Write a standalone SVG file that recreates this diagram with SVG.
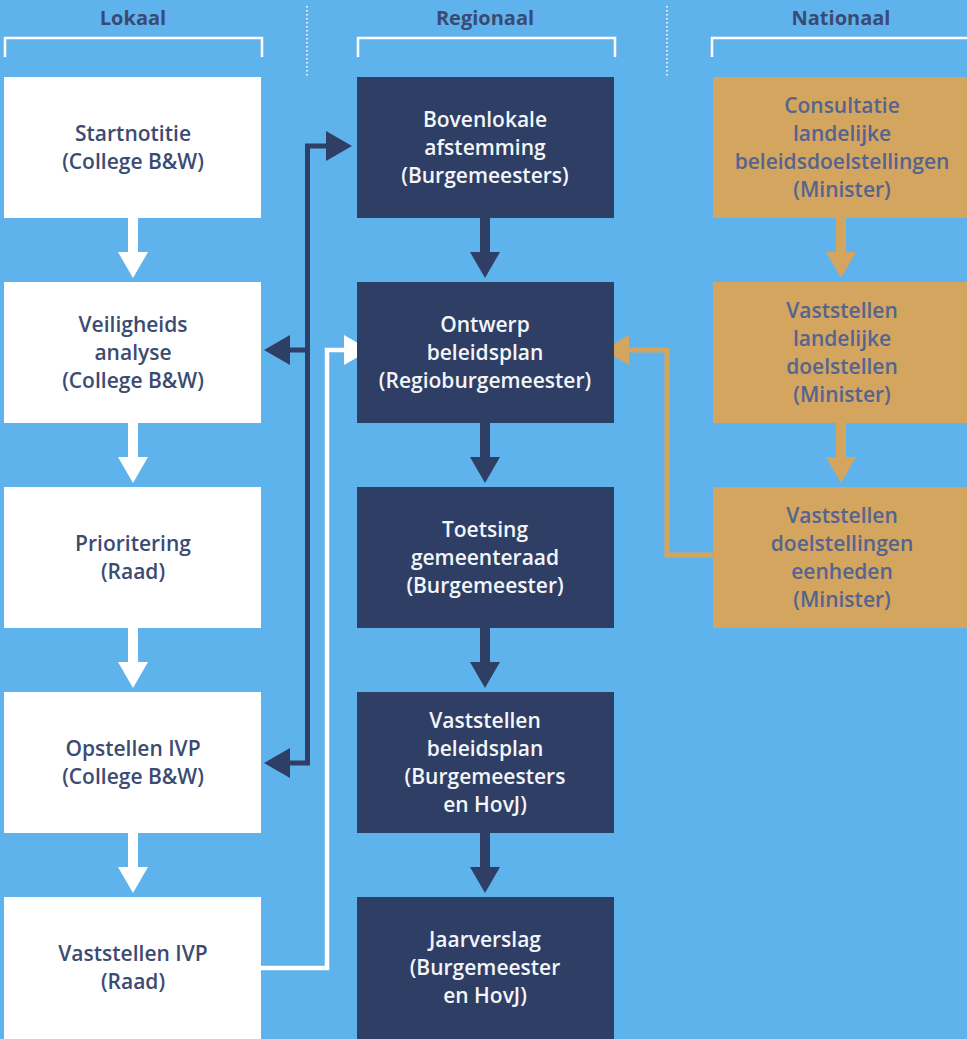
<svg xmlns="http://www.w3.org/2000/svg" width="967" height="1039" viewBox="0 0 967 1039">
<style>
.t{font-family:"Open Sans","Liberation Sans",sans-serif;font-weight:600;font-size:21px;text-anchor:middle}
.h{font-family:"Open Sans","Liberation Sans",sans-serif;font-weight:700;font-size:20px;text-anchor:middle;fill:#3b4a74}
.lt{fill:#3c4b72}
.dt{fill:#f2f5f9}
.ot{fill:#54648f}
.wb{fill:#ffffff}
.db{fill:#2f3e64}
.ob{fill:#d3a55f}
.br{fill:none;stroke:#ffffff;stroke-width:2.5}
.dot{fill:none;stroke:#ffffff;stroke-width:1.6;stroke-dasharray:1.6 2.4}
.cd{fill:none;stroke:#2f3e64;stroke-width:5}
.cw{fill:none;stroke:#ffffff;stroke-width:4.5}
.co{fill:none;stroke:#d3a55f;stroke-width:5}
.sd{fill:none;stroke:#2f3e64;stroke-width:10}
.sw{fill:none;stroke:#ffffff;stroke-width:10}
.so{fill:none;stroke:#d3a55f;stroke-width:10}
</style>
<defs>
<marker id="ad" markerUnits="userSpaceOnUse" markerWidth="26" markerHeight="30" viewBox="0 0 26 30" refX="0" refY="15" orient="auto-start-reverse"><path d="M0,0 L26,15 L0,30 Z" fill="#2f3e64"/></marker>
<marker id="aw" markerUnits="userSpaceOnUse" markerWidth="26" markerHeight="30" viewBox="0 0 26 30" refX="0" refY="15" orient="auto-start-reverse"><path d="M0,0 L26,15 L0,30 Z" fill="#ffffff"/></marker>
<marker id="ao" markerUnits="userSpaceOnUse" markerWidth="26" markerHeight="30" viewBox="0 0 26 30" refX="0" refY="15" orient="auto-start-reverse"><path d="M0,0 L26,15 L0,30 Z" fill="#d3a55f"/></marker>
</defs>
<rect x="0" y="0" width="967" height="1039" fill="#5fb3ec"/>

<g id="headers">
<text class="h" x="133" y="25">Lokaal</text>
<text class="h" x="485" y="25">Regionaal</text>
<text class="h" x="841" y="25">Nationaal</text>
<path class="br" d="M5,57 V38 H262 V57"/>
<path class="br" d="M358,57 V38 H615 V57"/>
<path class="br" d="M712,57 V38 H970"/>
<line class="dot" x1="307" y1="6" x2="307" y2="77"/>
<line class="dot" x1="667" y1="6" x2="667" y2="77"/>
</g>

<g id="connectors">
<path class="sw" d="M133,218 V252" marker-end="url(#aw)"/>
<path class="sw" d="M133,423 V457" marker-end="url(#aw)"/>
<path class="sw" d="M133,628 V662" marker-end="url(#aw)"/>
<path class="sw" d="M133,833 V867" marker-end="url(#aw)"/>
<path class="sd" d="M485,218 V252" marker-end="url(#ad)"/>
<path class="sd" d="M485,423 V457" marker-end="url(#ad)"/>
<path class="sd" d="M485,628 V662" marker-end="url(#ad)"/>
<path class="sd" d="M485,833 V867" marker-end="url(#ad)"/>
<path class="so" d="M841,218 V252" marker-end="url(#ao)"/>
<path class="so" d="M841,423 V457" marker-end="url(#ao)"/>
<path class="cd" d="M290,763 H307.5 V146 H326" marker-start="url(#ad)" marker-end="url(#ad)"/>
<path class="cd" d="M307.5,350 H290" marker-end="url(#ad)"/>
<path class="cw" d="M261,968 H327 V350 H344" marker-end="url(#aw)"/>
<path class="co" d="M713,555 H667 V350 H629" marker-end="url(#ao)"/>
</g>

<g id="startnotitie"><rect class="wb" x="4" y="77" width="257" height="141"/>
<text class="t lt" x="133" y="140.5">Startnotitie<tspan x="133" dy="28">(College B&amp;W)</tspan></text></g>
<g id="veiligheidsanalyse"><rect class="wb" x="4" y="282" width="257" height="141"/>
<text class="t lt" x="133" y="331.5">Veiligheids<tspan x="133" dy="28">analyse</tspan><tspan x="133" dy="28">(College B&amp;W)</tspan></text></g>
<g id="prioritering"><rect class="wb" x="4" y="487" width="257" height="141"/>
<text class="t lt" x="133" y="550.5">Prioritering<tspan x="133" dy="28">(Raad)</tspan></text></g>
<g id="opstellen-ivp"><rect class="wb" x="4" y="692" width="257" height="141"/>
<text class="t lt" x="133" y="755.5">Opstellen IVP<tspan x="133" dy="28">(College B&amp;W)</tspan></text></g>
<g id="vaststellen-ivp"><rect class="wb" x="4" y="897" width="257" height="150"/>
<text class="t lt" x="133" y="960.5">Vaststellen IVP<tspan x="133" dy="28">(Raad)</tspan></text></g>

<g id="bovenlokale"><rect class="db" x="357" y="77" width="257" height="141"/>
<text class="t dt" x="485" y="126.5">Bovenlokale<tspan x="485" dy="28">afstemming</tspan><tspan x="485" dy="28">(Burgemeesters)</tspan></text></g>
<g id="ontwerp"><rect class="db" x="357" y="282" width="257" height="141"/>
<text class="t dt" x="485" y="331.5">Ontwerp<tspan x="485" dy="28">beleidsplan</tspan><tspan x="485" dy="28">(Regioburgemeester)</tspan></text></g>
<g id="toetsing"><rect class="db" x="357" y="487" width="257" height="141"/>
<text class="t dt" x="485" y="536.5">Toetsing<tspan x="485" dy="28">gemeenteraad</tspan><tspan x="485" dy="28">(Burgemeester)</tspan></text></g>
<g id="vaststellen-beleidsplan"><rect class="db" x="357" y="692" width="257" height="141"/>
<text class="t dt" x="485" y="727.5">Vaststellen<tspan x="485" dy="28">beleidsplan</tspan><tspan x="485" dy="28">(Burgemeesters</tspan><tspan x="485" dy="28">en HovJ)</tspan></text></g>
<g id="jaarverslag"><rect class="db" x="357" y="897" width="257" height="150"/>
<text class="t dt" x="485" y="946.5">Jaarverslag<tspan x="485" dy="28">(Burgemeester</tspan><tspan x="485" dy="28">en HovJ)</tspan></text></g>

<g id="consultatie"><rect class="ob" x="713" y="77" width="260" height="141"/>
<text class="t ot" x="842" y="112.5">Consultatie<tspan x="842" dy="28">landelijke</tspan><tspan x="842" dy="28">beleidsdoelstellingen</tspan><tspan x="842" dy="28">(Minister)</tspan></text></g>
<g id="vaststellen-landelijke"><rect class="ob" x="713" y="282" width="260" height="141"/>
<text class="t ot" x="842" y="317.5">Vaststellen<tspan x="842" dy="28">landelijke</tspan><tspan x="842" dy="28">doelstellen</tspan><tspan x="842" dy="28">(Minister)</tspan></text></g>
<g id="vaststellen-eenheden"><rect class="ob" x="713" y="487" width="260" height="141"/>
<text class="t ot" x="842" y="522.5">Vaststellen<tspan x="842" dy="28">doelstellingen</tspan><tspan x="842" dy="28">eenheden</tspan><tspan x="842" dy="28">(Minister)</tspan></text></g>
</svg>
